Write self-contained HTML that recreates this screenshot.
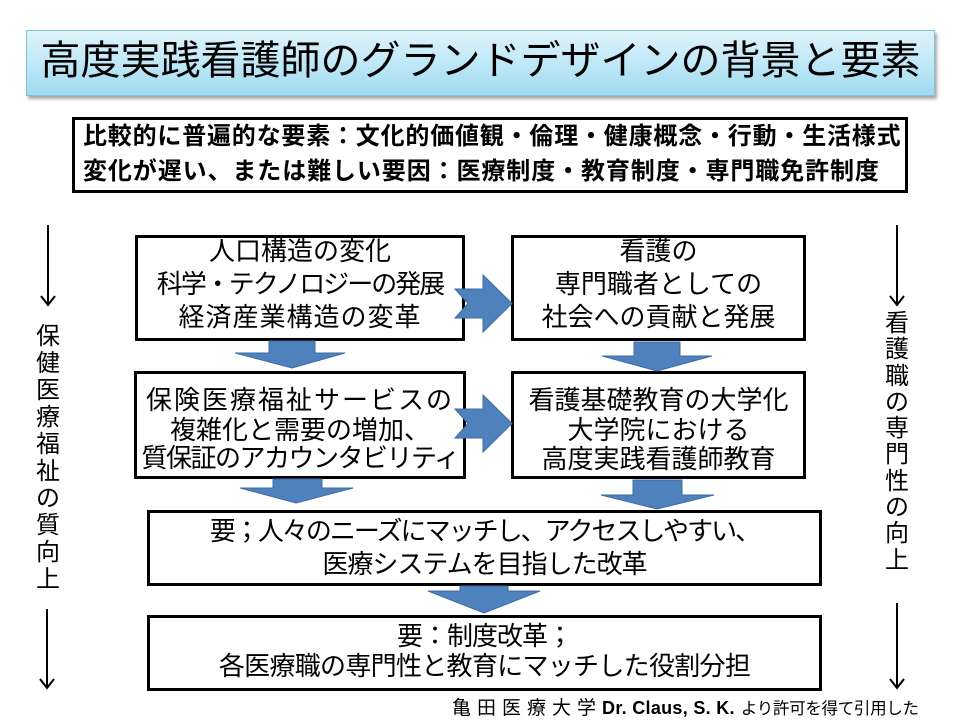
<!DOCTYPE html>
<html>
<head>
<meta charset="utf-8">
<style>
  html,body{margin:0;padding:0;background:#fff;}
  #root{position:relative;width:960px;height:720px;overflow:hidden;background:#fff;
    font-family:"Liberation Sans","Noto Sans CJK JP",sans-serif;color:#000;}
  .abs{position:absolute;}
  .title{left:26px;top:30px;width:909px;height:66px;box-sizing:border-box;
    border:1px solid #86c3d8;
    background:linear-gradient(to bottom,#e0f3fb 0%,#c0e8f7 50%,#9fdaf0 100%);
    box-shadow:2px 3px 3px rgba(0,0,0,0.35);}
  .ttext{left:26px;width:909px;top:36px;line-height:50px;font-size:40px;text-align:center;white-space:nowrap;}
  .box{box-sizing:border-box;border:3px solid #000;background:#fff;}
  .bt{font-size:24px;font-weight:bold;line-height:30px;white-space:nowrap;left:83px;}
  .ln{font-size:26px;line-height:30px;text-align:center;white-space:nowrap;}
  .vt{font-size:24px;text-align:center;width:40px;}
  .foot{left:452px;top:697px;line-height:22px;white-space:nowrap;}
</style>
</head>
<body>
<div id="root">

  <!-- Title -->
  <div class="abs title"></div>
  <div class="abs ttext">高度実践看護師のグランドデザインの背景と要素</div>

  <!-- Top info box -->
  <div class="abs box" style="left:72px;top:117px;width:836px;height:76px;"></div>
  <div class="abs bt" style="top:122px;letter-spacing:0.8px;">比較的に普遍的な要素：文化的価値観・倫理・健康概念・行動・生活様式</div>
  <div class="abs bt" style="top:157px;letter-spacing:0.9px;">変化が遅い、または難しい要因：医療制度・教育制度・専門職免許制度</div>

  <!-- Box A -->
  <div class="abs box" style="left:135px;top:235px;width:330px;height:106px;"></div>
  <div class="abs ln" style="left:135px;width:330px;top:235.5px;">人口構造の変化</div>
  <div class="abs ln" style="left:135px;width:330px;top:268.5px;letter-spacing:-2px;">科学・テクノロジーの発展</div>
  <div class="abs ln" style="left:135px;width:330px;top:301.5px;letter-spacing:1px;">経済産業構造の変革</div>

  <!-- Box B -->
  <div class="abs box" style="left:511px;top:235px;width:295px;height:106px;"></div>
  <div class="abs ln" style="left:511px;width:295px;top:235.5px;">看護の</div>
  <div class="abs ln" style="left:511px;width:295px;top:268.5px;">専門職者としての</div>
  <div class="abs ln" style="left:511px;width:295px;top:301.5px;">社会への貢献と発展</div>

  <!-- Box C -->
  <div class="abs box" style="left:134px;top:371px;width:332px;height:108px;"></div>
  <div class="abs ln" style="left:134px;width:332px;top:384.5px;letter-spacing:2px;">保険医療福祉サービスの</div>
  <div class="abs ln" style="left:134px;width:332px;top:414.5px;">複雑化と需要の増加、</div>
  <div class="abs ln" style="left:134px;width:332px;top:442.5px;letter-spacing:-1.5px;">質保証のアカウンタビリティ</div>

  <!-- Box D -->
  <div class="abs box" style="left:511px;top:371px;width:295px;height:108px;"></div>
  <div class="abs ln" style="left:511px;width:295px;top:385px;">看護基礎教育の大学化</div>
  <div class="abs ln" style="left:511px;width:295px;top:414.5px;">大学院における</div>
  <div class="abs ln" style="left:511px;width:295px;top:443.5px;">高度実践看護師教育</div>

  <!-- Box E -->
  <div class="abs box" style="left:147px;top:510px;width:675px;height:76px;"></div>
  <div class="abs ln" style="left:147px;width:675px;top:515.5px;letter-spacing:-2px;">要；人々のニーズにマッチし、アクセスしやすい、</div>
  <div class="abs ln" style="left:147px;width:675px;top:548.5px;letter-spacing:-1px;">医療システムを目指した改革</div>

  <!-- Box F -->
  <div class="abs box" style="left:147px;top:615px;width:675px;height:76px;"></div>
  <div class="abs ln" style="left:147px;width:675px;top:620.5px;letter-spacing:-1px;">要：制度改革；</div>
  <div class="abs ln" style="left:147px;width:675px;top:650.5px;letter-spacing:-0.7px;">各医療職の専門性と教育にマッチした役割分担</div>

  <!-- Side vertical texts -->
  <div class="abs vt" style="left:28px;top:323px;line-height:27px;">保<br>健<br>医<br>療<br>福<br>祉<br>の<br>質<br>向<br>上</div>
  <div class="abs vt" style="left:877px;top:311px;line-height:26.3px;">看<br>護<br>職<br>の<br>専<br>門<br>性<br>の<br>向<br>上</div>

  <!-- Footer -->
  <div class="abs foot"><span style="font-size:19px;letter-spacing:6px;">亀田医療大学</span><span style="font-size:18px;font-weight:bold;letter-spacing:0.3px;">Dr. Claus, S. K.</span><span style="font-size:16.5px;letter-spacing:-0.3px;margin-left:6px;">より許可を得て引用した</span></div>

  <!-- Arrows -->
  <svg class="abs" style="left:0;top:0;" width="960" height="720" viewBox="0 0 960 720">
    <g fill="#4f81bd" stroke="#3d6ca5" stroke-width="1" stroke-linejoin="miter">
      <!-- right notched arrows -->
      <polygon points="455,289 483,289 483,275 512,303.5 483,332 483,318 455,318 468,303.5"/>
      <polygon points="455,409 483,409 483,395 512,423.5 483,452 483,438 455,438 468,423.5"/>
      <!-- down arrows -->
      <polygon points="269,341 315,341 315,353 345,353 292,368 235,353 269,353"/>
      <polygon points="634,342 680,342 680,356 712,356 657,371 602,356 634,356"/>
      <polygon points="273,479 322,479 322,488 353,488 296,503 240,488 273,488"/>
      <polygon points="633,480 682,480 682,495 714,495 657,509 601,495 633,495"/>
      <polygon points="460,586 508,586 508,591 540,591 484,613 428,591 460,591"/>
    </g>
    <g stroke="#000" stroke-width="2" fill="none">
      <!-- left side arrows -->
      <line x1="48" y1="225" x2="48" y2="304"/>
      <polyline points="41,296 48,305 55,296"/>
      <line x1="47" y1="609" x2="47" y2="687"/>
      <polyline points="40,679 47,688 54,679"/>
      <!-- right side arrows -->
      <line x1="897" y1="225" x2="897" y2="304"/>
      <polyline points="890,296 897,305 904,296"/>
      <line x1="897" y1="603" x2="897" y2="687"/>
      <polyline points="890,679 897,688 904,679"/>
    </g>
  </svg>
</div>
</body>
</html>
